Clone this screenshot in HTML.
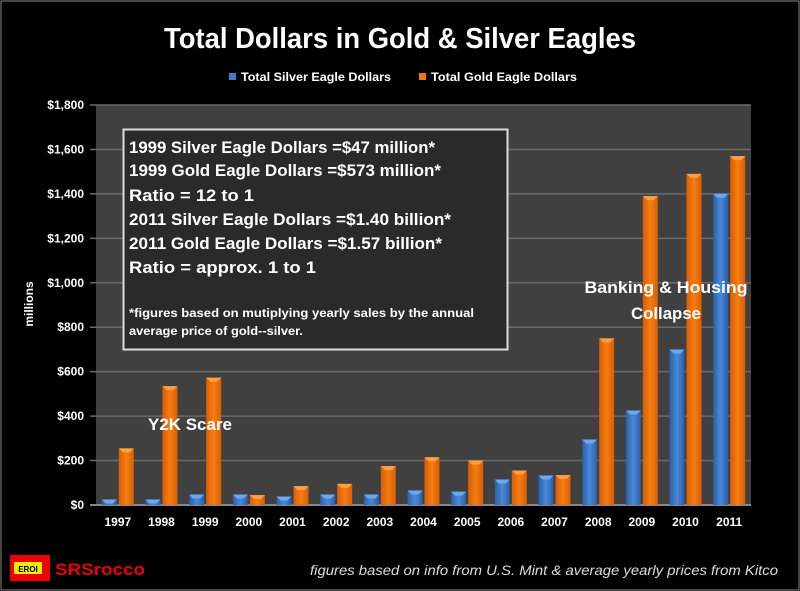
<!DOCTYPE html>
<html><head><meta charset="utf-8"><style>
html,body{margin:0;padding:0;background:#000;}
svg{display:block;font-family:"Liberation Sans",sans-serif;}
</style></head><body>
<svg id="chart" width="800" height="591" viewBox="0 0 800 591">
<defs>
<linearGradient id="gb" x1="0" x2="1"><stop offset="0" stop-color="#2a5ea8"/><stop offset="0.5" stop-color="#4a8ad8"/><stop offset="1" stop-color="#2a5ea8"/></linearGradient>
<linearGradient id="go" x1="0" x2="1"><stop offset="0" stop-color="#d85e06"/><stop offset="0.5" stop-color="#f57d10"/><stop offset="1" stop-color="#d85e06"/></linearGradient>
</defs>
<rect x="1" y="1" width="798" height="589" fill="#000" stroke="#888" stroke-width="1"/>
<text x="400" y="48" fill="#fff" font-size="29" font-weight="bold" text-anchor="middle" textLength="472" lengthAdjust="spacingAndGlyphs">Total Dollars in Gold &amp; Silver Eagles</text>
<g>
<rect x="229" y="73" width="7" height="7" fill="#3d7ccc"/>
<text x="241" y="81" fill="#fff" font-size="12" font-weight="bold" textLength="150" lengthAdjust="spacingAndGlyphs">Total Silver Eagle Dollars</text>
<rect x="419" y="73" width="7" height="7" fill="#f07810"/>
<text x="431" y="81" fill="#fff" font-size="12" font-weight="bold" textLength="146" lengthAdjust="spacingAndGlyphs">Total Gold Eagle Dollars</text>
</g>
<rect x="96" y="105" width="655" height="400" fill="#404040"/>
<g id="grid"></g>
<g id="bars"></g>
<g id="xlabels"></g>
<text transform="translate(33,304) rotate(-90)" fill="#fff" font-size="12" font-weight="bold" text-anchor="middle">millions</text>
<g>
<rect x="123.5" y="129.5" width="384" height="220" fill="#2a2a2a" stroke="#ddd" stroke-width="2"/>
<g fill="#fff" font-weight="bold" font-size="17">
<text x="129" y="153" textLength="306" lengthAdjust="spacingAndGlyphs">1999 Silver Eagle Dollars =$47 million*</text>
<text x="129" y="176" textLength="312" lengthAdjust="spacingAndGlyphs">1999 Gold Eagle Dollars =$573 million*</text>
<text x="129" y="201" textLength="125" lengthAdjust="spacingAndGlyphs">Ratio = 12 to 1</text>
<text x="129" y="225" textLength="322" lengthAdjust="spacingAndGlyphs">2011 Silver Eagle Dollars =$1.40 billion*</text>
<text x="129" y="249" textLength="313" lengthAdjust="spacingAndGlyphs">2011 Gold Eagle Dollars =$1.57 billion*</text>
<text x="129" y="273" textLength="187" lengthAdjust="spacingAndGlyphs">Ratio = approx. 1 to 1</text>
<text x="129" y="317" font-size="12" textLength="345" lengthAdjust="spacingAndGlyphs">*figures based on mutiplying  yearly sales by the annual</text>
<text x="129" y="335" font-size="12" textLength="174" lengthAdjust="spacingAndGlyphs">average price of gold--silver.</text>
</g></g>
<text x="190" y="430" fill="#fff" font-size="17" font-weight="bold" text-anchor="middle" textLength="84" lengthAdjust="spacingAndGlyphs">Y2K Scare</text>
<text x="666" y="293" fill="#fff" font-size="17" font-weight="bold" text-anchor="middle" textLength="163" lengthAdjust="spacingAndGlyphs">Banking &amp; Housing</text>
<text x="666" y="319" fill="#fff" font-size="17" font-weight="bold" text-anchor="middle" textLength="70" lengthAdjust="spacingAndGlyphs">Collapse</text>
<g>
<rect x="10" y="555" width="40" height="26" fill="#e00"/>
<rect x="14" y="562" width="28" height="12" fill="#ee0"/>
<text x="28" y="572" fill="#000" font-size="8" font-weight="bold" text-anchor="middle">EROI</text>
<text x="55" y="575" fill="#e00" font-size="17" font-weight="bold" textLength="90" lengthAdjust="spacingAndGlyphs">SRSrocco</text>
</g>
<text x="778" y="575" fill="#ddd" font-size="14" font-style="italic" text-anchor="end" textLength="468" lengthAdjust="spacingAndGlyphs">figures based on info from U.S. Mint &amp; average yearly prices from Kitco</text>
</svg>
<script>
const years = ["1997","1998","1999","2000","2001","2002","2003","2004","2005","2006","2007","2008","2009","2010","2011"];
const silverValues = [25,25,47,47,38,47,47,65,60,115,133,295,425,700,1400];
const goldValues = [255,535,573,45,85,95,175,215,200,155,135,750,1390,1490,1570];
const yTicks = [0,200,400,600,800,1000,1200,1400,1600,1800];
const yTickLabels = ["$0","$200","$400","$600","$800","$1,000","$1,200","$1,400","$1,600","$1,800"];
const NS="http://www.w3.org/2000/svg";
const X0=96,X1=751,Y0=505,Y1=105,YMAX=1800;
const yScale=v=>Y0-(v/YMAX)*(Y0-Y1);
const band=(X1-X0)/years.length;
const xCenter=i=>X0+band*(i+0.5);
function mk(tag,attrs,parent){const e=document.createElementNS(NS,tag);for(const k in attrs)e.setAttribute(k,attrs[k]);parent.appendChild(e);return e;}
const grid=document.getElementById('grid');
yTicks.forEach((t,i)=>{
  const y=yScale(t);
  const l=mk('line',{x1:90,x2:X1,y1:y,y2:y,stroke:i===0?'#888':'#6a6a6a','stroke-width':i===0?2:1.5},grid);
  
  
  const tx=mk('text',{x:84,y:y+4,fill:'#fff','font-size':12,'font-weight':'bold','text-anchor':'end'},grid);
  tx.textContent=yTickLabels[i];
  
  
});
const bars=document.getElementById('bars');
const xl=document.getElementById('xlabels');
years.forEach((yr,i)=>{
  const c=xCenter(i);
  [[silverValues[i],c-16,'url(#gb)','#6aa8f0','bar-silver-'],[goldValues[i],c+1,'url(#go)','#ffa040','bar-gold-']].forEach(([v,x,f,top,nm])=>{
    const y=yScale(v);
    const r=mk('rect',{x:x,y:y,width:15,height:Y0-y,fill:f},bars);
    
    
    const cap=mk('polygon',{points:`${x},${y} ${x+15},${y} ${x+11},${y+4} ${x+4},${y+4}`,fill:top},bars);
    
    
  });
  const t=mk('text',{x:c,y:526,fill:'#fff','font-size':12,'font-weight':'bold','text-anchor':'middle'},xl);
  t.textContent=yr;
  
  
});
</script>
</body></html>
